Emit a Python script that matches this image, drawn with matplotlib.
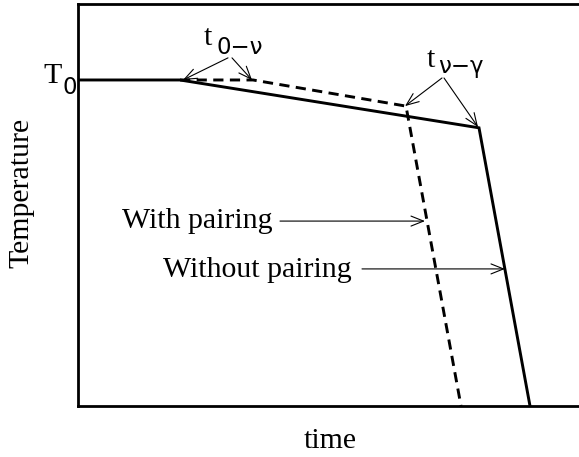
import matplotlib
matplotlib.use("Agg")
import matplotlib.pyplot as plt

plt.rcParams['font.family'] = ['Liberation Serif', 'DejaVu Serif']

# Data (time in arbitrary units 0..10, temperature 0..100)
solid_t = [0.0, 2.04, 8.02, 9.04]
solid_T = [81.1, 81.1, 69.2, 0.0]
dash_t = [2.04, 3.5, 6.56, 7.66]
dash_T = [81.1, 81.1, 74.6, 0.0]

fig = plt.figure(figsize=(5.79, 4.57), dpi=100)
ax = fig.add_axes([78/579, 1 - 406/457, 501/579, 402/457])
ax.set_xlim(0, 10.02)
ax.set_ylim(0, 100)
ax.set_xticks([])
ax.set_yticks([])
for s in ['left', 'bottom', 'top']:
    ax.spines[s].set_linewidth(2)
ax.spines['right'].set_visible(False)

ax.plot(solid_t, solid_T, color='black', lw=2.1, solid_joinstyle='miter')
ax.plot(dash_t, dash_T, color='black', lw=2.1, dashes=(3.5, 2.2))

FS = 21.5
SUB = 16.5
ap = dict(arrowstyle='->,head_length=0.45,head_width=0.18', lw=0.8,
          color='black', shrinkA=0, shrinkB=0, mutation_scale=20)

def arrow(tail, head):
    ax.annotate('', xy=head, xytext=tail, arrowprops=ap, annotation_clip=False)

# t_{0-nu}
ax.text(2.52, 89.8, 't', fontsize=FS, ha='left', va='baseline')
ax.text(2.76, 87.6, '0\u2212\u03bd', fontsize=SUB, ha='left', va='baseline',
        family=['DejaVu Sans'])
arrow((3.0, 86.6), (2.1, 81.1))
arrow((3.08, 86.6), (3.48, 81.1))

# t_{nu-gamma}
ax.text(6.98, 84.3, 't', fontsize=FS, ha='left', va='baseline')
ax.text(7.2, 82.9, '\u03bd\u2212\u03b3', fontsize=SUB, ha='left', va='baseline',
        family=['DejaVu Sans'])
arrow((7.28, 81.6), (6.54, 74.6))
arrow((7.32, 81.6), (8.0, 69.4))

# With / Without pairing
ax.text(3.9, 44.3, 'With pairing', fontsize=FS, ha='right', va='baseline')
arrow((4.04, 46.0), (6.94, 46.0))
ax.text(5.48, 32.1, 'Without pairing', fontsize=FS, ha='right', va='baseline')
arrow((5.68, 34.1), (8.54, 34.1))

# T0
ax.text(-0.7, 80.3, 'T', fontsize=FS, ha='left', va='baseline', clip_on=False)
ax.text(-0.32, 77.6, '0', fontsize=SUB, ha='left', va='baseline', clip_on=False,
        family=['DejaVu Sans'])

ax.set_ylabel('Temperature', fontsize=FS, va='center')
ax.yaxis.set_label_coords((22 - 78) / 500, (406 - 193) / 402)
ax.set_xlabel('time', fontsize=FS, va='center')
ax.xaxis.set_label_coords((330 - 78) / 500, (406 - 441) / 402)

fig.savefig('out.png', dpi=100)
